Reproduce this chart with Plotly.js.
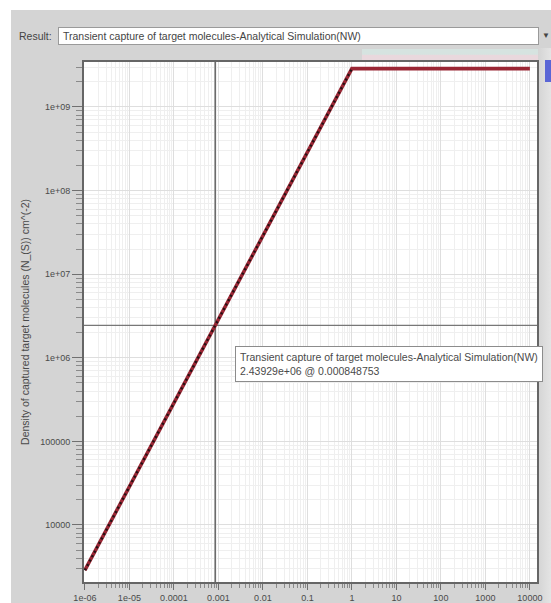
<!DOCTYPE html>
<html>
<head>
<meta charset="utf-8">
<script src="https://cdn.plot.ly/plotly-3.0.1.min.js"></script>
<style>
html,body{margin:0;padding:0;width:551px;height:603px;overflow:hidden;background:#ffffff;font-family:"Liberation Sans",Arial,sans-serif;}
#panel{position:absolute;left:11px;top:10px;width:540px;height:593px;background:#d4d4d4;}
#rightshade{position:absolute;left:538px;top:48px;width:13px;height:555px;background:linear-gradient(to right,#d4d4d4,#e4e4e4);}
#bluetab{position:absolute;left:545px;top:60px;width:6px;height:22px;background:#5a66d6;}
#band{position:absolute;left:362px;top:49px;width:176px;height:13px;background:linear-gradient(to bottom,#d6e3e0 0%,#d6e3e0 40%,#e9d8dd 50%,#e9d8dd 100%);}
#reslabel{position:absolute;left:19px;top:30px;font-size:10.5px;color:#444;}
#dropdown{position:absolute;left:58px;top:27px;width:481px;height:18px;background:#fff;border:1px solid #9a9a9a;font-size:10.5px;color:#444;line-height:17px;padding-left:4px;box-sizing:border-box;white-space:nowrap;}
#arrow{position:absolute;left:542px;top:31px;font-size:8px;color:#444;}
#chart{position:absolute;left:0;top:0;width:551px;height:603px;}
</style>
</head>
<body>
<div id="panel"></div>
<div id="rightshade"></div>
<div id="bluetab"></div>
<div id="band"></div>
<div id="reslabel">Result:</div>
<div id="dropdown">Transient capture of target molecules-Analytical Simulation(NW)</div>
<div id="arrow">&#9660;</div>
<div id="chart"></div>
<script>
// ---- data ----
const time = [1e-6, 1e-5, 1e-4, 1e-3, 1e-2, 1e-1, 1, 10, 100, 1000, 10000];
const density = [2874, 28740, 287400, 2874000, 28740000, 287400000, 2874000000, 2874000000, 2874000000, 2874000000, 2874000000];
const rampTime = [1e-6, 1e-5, 1e-4, 1e-3, 1e-2, 1e-1, 1];
const rampDensity = [2874, 28740, 287400, 2874000, 28740000, 287400000, 2874000000];
const cursorTime = 0.000848753;
const cursorDensity = 2.43929e6;
const cursorSeries = "Transient capture of target molecules-Analytical Simulation(NW)";
const cursorText = "2.43929e+06 @ 0.000848753";
const xTickVals = [1e-6, 1e-5, 1e-4, 1e-3, 1e-2, 1e-1, 1, 10, 100, 1000, 10000];
const xTickText = ["1e-06", "1e-05", "0.0001", "0.001", "0.01", "0.1", "1", "10", "100", "1000", "10000"];
const yTickVals = [1e4, 1e5, 1e6, 1e7, 1e8, 1e9];
const yTickText = ["10000", "100000", "1e+06", "1e+07", "1e+08", "1e+09"];
const yTitle = "Density of captured target molecules (N_(S)) cm^(-2)";

const W = 551, H = 603;
const plotL = 84, plotR = 537, plotT = 62, plotB = 582;
function px(xp){ return (xp - plotL) / (plotR - plotL); }
function py(yp){ return (plotB - yp) / (plotB - plotT); }

const traces = [
  {x: [cursorTime, cursorTime], y: [1e2, 1e11], mode: 'lines', line: {color: '#666666', width: 1.5}, hoverinfo: 'skip'},
  {x: [1e-8, 1e6], y: [cursorDensity, cursorDensity], mode: 'lines', line: {color: '#777777', width: 1.2}, hoverinfo: 'skip'},
  {x: time, y: density, mode: 'lines', line: {color: '#9a2634', width: 3.6}},
  {x: rampTime, y: rampDensity, mode: 'lines', line: {color: '#231214', width: 2.4, dash: '2px,3px'}}
];

const tickFont = {family: '"Liberation Sans", Arial, sans-serif', size: 9, color: '#4a4a4a'};

const layout = {
  width: W, height: H,
  margin: {l: plotL, r: W - plotR, t: plotT, b: H - plotB, pad: 0},
  paper_bgcolor: 'rgba(0,0,0,0)',
  plot_bgcolor: '#ffffff',
  showlegend: false,
  xaxis: {
    type: 'log', range: [-6.02, 4.16], autorange: false,
    tickmode: 'array', tickvals: xTickVals, ticktext: xTickText,
    ticks: 'outside', ticklen: 6, tickcolor: '#707070', tickwidth: 1,
    tickfont: tickFont,
    showgrid: true, gridcolor: '#dedede', gridwidth: 1,
    minor: {dtick: 'D1', ticks: 'outside', ticklen: 4, tickcolor: '#8a8a8a', showgrid: true, gridcolor: '#efefef'},
    showline: true, linecolor: '#666666', linewidth: 2, mirror: true,
    zeroline: false
  },
  yaxis: {
    type: 'log', range: [3.318, 9.538], autorange: false,
    tickmode: 'array', tickvals: yTickVals, ticktext: yTickText,
    ticks: 'outside', ticklen: 10, tickcolor: '#707070', tickwidth: 1,
    tickfont: tickFont,
    showgrid: true, gridcolor: '#dedede', gridwidth: 1,
    minor: {dtick: 'D1', ticks: 'outside', ticklen: 6, tickcolor: '#8a8a8a', showgrid: true, gridcolor: '#efefef'},
    showline: true, linecolor: '#666666', linewidth: 2, mirror: true,
    zeroline: false,
    title: {text: yTitle, font: {family: '"Liberation Sans", Arial, sans-serif', size: 10.5, color: '#4a4a4a'}, standoff: 8}
  },
  annotations: [{
    xref: 'paper', yref: 'paper', x: px(235), y: py(346), xanchor: 'left', yanchor: 'top',
    text: cursorSeries + '<br>' + cursorText, align: 'left', showarrow: false,
    font: {family: '"Liberation Sans", Arial, sans-serif', size: 10.5, color: '#4a4a4a'},
    bgcolor: '#ffffff', bordercolor: '#8c8c8c', borderwidth: 1, borderpad: 4
  }]
};

Plotly.newPlot('chart', traces, layout, {staticPlot: true, displayModeBar: false});
</script>
</body>
</html>
